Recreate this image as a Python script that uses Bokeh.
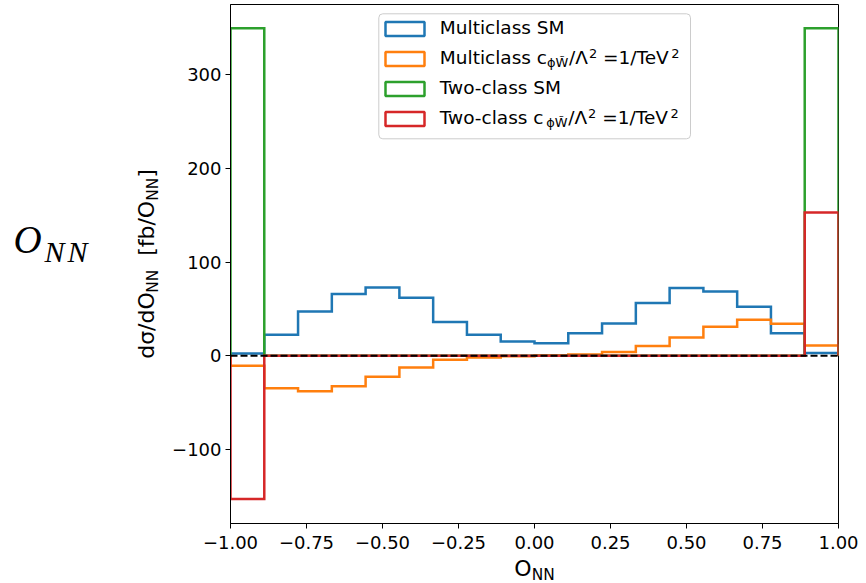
import numpy as np
from bokeh.plotting import figure
from bokeh.layouts import row, column
from bokeh.models import (Range1d, FixedTicker, CustomJSTickFormatter, Span,
                          BoxAnnotation, Label)
from bokeh.embed import file_html
from bokeh.resources import INLINE

# ---------------- data ----------------
bin_edges = np.linspace(-1.0, 1.0, 19)
multiclass_sm = [2.5, 22.5, 47.4, 66.0, 73.0, 62.0, 36.0, 22.5, 15.3, 13.5,
                 24.0, 34.6, 56.3, 72.4, 68.8, 52.4, 24.0, 2.9]
multiclass_cpw = [-10.7, -34.6, -38.0, -32.5, -22.5, -12.5, -4.3, -1.8, -0.5, 0.3,
                  1.4, 3.9, 10.4, 19.6, 31.0, 38.5, 34.2, 11.0]
twoclass_sm = [350.0, 0, 0, 0, 0, 0, 0, 0, 0, 0, 0, 0, 0, 0, 0, 0, 0, 350.0]
twoclass_cpw = [-153.0, 0, 0, 0, 0, 0, 0, 0, 0, 0, 0, 0, 0, 0, 0, 0, 0, 153.0]
x_ticks = [-1.0, -0.75, -0.5, -0.25, 0.0, 0.25, 0.5, 0.75, 1.0]
y_ticks = [-100, 0, 100, 200, 300]
series = [multiclass_sm, multiclass_cpw, twoclass_sm, twoclass_cpw]
colors = ["#1f77b4", "#ff7f0e", "#2ca02c", "#d62728"]

FONT = "DejaVu Sans"
NB = "\u00a0"
CW = {'M': .863, 'u': .634, 'l': .278, 't': .392, 'i': .278, 'c': .550, 'a': .613,
      's': .521, ' ': .318, NB: .318, 'S': .635, 'T': .611, 'w': .818, 'o': .612,
      '-': .361, 'e': .615, 'V': .684, '=': .838, '1': .636, '/': .337, 'Λ': .684,
      '2': .636, 'ϕ': .67, 'W': .989, '\u0303': 0.0, 'd': .635, 'σ': .603,
      'O': .787, 'N': .748, '[': .390, ']': .390, 'f': .352, 'b': .635}
BL = 0.47  # rendered baseline sits this many em below the label anchor


def tw(text, size):
    return sum(CW.get(ch, 0.6) for ch in text) * size


def add_text(fig, text, x, y, size, font=FONT, angle=0.0, style="normal"):
    # (x, y): desired baseline-left point in frame screen units (y up)
    if angle == 0.0:
        ax_, ay_ = x, y + BL * size
    else:
        ax_, ay_ = x - BL * size, y
    fig.add_layout(Label(x=ax_, y=ay_, x_units="screen", y_units="screen", text=text,
                         text_font=font, text_font_size=f"{size}px",
                         text_font_style=style, text_color="black",
                         text_align="left", text_baseline="alphabetic",
                         angle=angle))


def add_pieces(fig, pieces, x0, y0, angle=0.0):
    adv = 0.0
    for piece in pieces:
        text, size, shift = piece[:3]
        dx = piece[3] if len(piece) > 3 else 0.0
        adv += dx
        if angle == 0.0:
            add_text(fig, text, x0 + adv, y0 + shift, size)
        else:
            add_text(fig, text, x0 - shift, y0 + adv, size, angle=angle)
        adv += tw(text, size)
    return adv


TOTAL_W, TOTAL_H = 866, 583
LEFT_W = 168
TOP_H = 555
FL, FB, FT = 230, 523, 4     # main frame left / bottom / top on the page


def blank_fig(w, h, top=0, bottom=0):
    f = figure(width=w, height=h, output_backend="svg", toolbar_location=None,
               x_range=Range1d(0, 1), y_range=Range1d(0, 1),
               x_axis_type=None, y_axis_type=None,
               min_border=0, min_border_left=0, min_border_right=0,
               min_border_top=top, min_border_bottom=bottom)
    f.outline_line_color = None
    f.grid.visible = False
    return f


# ---------------- main figure ----------------
p = figure(width=TOTAL_W - LEFT_W, height=TOP_H, output_backend="svg",
           toolbar_location=None,
           x_range=Range1d(-1.0, 1.0), y_range=Range1d(-179.2, 375.3),
           min_border_left=FL - LEFT_W, min_border_right=28, min_border_top=FT,
           min_border_bottom=TOP_H - FB)
p.xgrid.visible = False
p.ygrid.visible = False
p.outline_line_color = "black"
p.outline_line_width = 1

for ax in (p.xaxis[0], p.yaxis[0]):
    ax.axis_line_color = "black"
    ax.major_tick_line_color = "black"
    ax.major_tick_out = 5
    ax.major_tick_in = 0
    ax.minor_tick_line_color = None
    ax.major_label_text_font = FONT
    ax.major_label_text_font_size = "18px"
    ax.major_label_text_color = "black"
p.xaxis.major_label_standoff = 7
p.yaxis.major_label_standoff = 4

p.xaxis.ticker = FixedTicker(ticks=x_ticks)
p.yaxis.ticker = FixedTicker(ticks=y_ticks)
p.xaxis.formatter = CustomJSTickFormatter(
    code="return (tick < 0 ? '\u2212' : '') + Math.abs(tick).toFixed(2);")
p.yaxis.formatter = CustomJSTickFormatter(
    code="return (tick < 0 ? '\u2212' : '') + Math.abs(tick).toFixed(0);")


def step_outline(edges, vals):
    xs = np.repeat(edges, 2)
    ys = np.concatenate([[0.0], np.repeat(np.asarray(vals, float), 2), [0.0]])
    return xs, ys


for vals, col in zip(series, colors):
    xs, ys = step_outline(bin_edges, vals)
    p.line(xs, ys, line_color=col, line_width=2.5, line_join="miter")

p.add_layout(Span(location=0, dimension="width", line_color="black",
                  line_width=2, line_dash="7 3"))


def sx(px):
    return px - FL


def sy(py):
    return FB - py


# legend
p.add_layout(BoxAnnotation(left=sx(378.3), right=sx(690), top=sy(13.3), bottom=sy(138.3),
                           left_units="screen", right_units="screen",
                           top_units="screen", bottom_units="screen",
                           fill_color="white", fill_alpha=0.8,
                           line_color="#cccccc", line_alpha=1.0, line_width=1,
                           border_radius=4))
LF = 18.5
sub = LF * 0.7
coef = [("ϕW\u0303", sub, -3, 0.0), ("/Λ", LF, 0, 0.5), ("2", sub, 6.5, 1.0),
        (NB + "=1/TeV", LF, 0), ("2", sub, 6.5, -0.5)]
legend_rows = [
    [("Multiclass SM", LF, 0)],
    [("Multiclass c", LF, 0)] + coef,
    [("Two-class SM", LF, 0)],
    [("Two-class c", LF, 0)] + coef,
]
for i, (rw, col) in enumerate(zip(legend_rows, colors)):
    base = 35.5 + 30 * i
    p.add_layout(BoxAnnotation(left=sx(385), right=sx(424), top=sy(base - 14), bottom=sy(base),
                               left_units="screen", right_units="screen",
                               top_units="screen", bottom_units="screen",
                               fill_alpha=0.0, line_color=col, line_alpha=1.0,
                               line_width=2.5))
    add_pieces(p, rw, sx(439.3), sy(base))

# ---------------- left panel: big label and y-axis title ----------------
left = blank_fig(LEFT_W, TOP_H, top=FT, bottom=TOP_H - FB)
L = 22
ls = L * 0.7
ylab = [("dσ/dO", L, 0), ("NN", ls, -3.5), (NB + NB + "[fb/O", L, 0),
        ("NN", ls, -3.5), ("]", L, 0)]
ylen = sum(tw(t, s) for t, s, _ in ylab)
add_pieces(left, ylab, 156, FB - (263.5 + ylen / 2), angle=np.pi / 2)
add_text(left, "O", 13, FB - 257, 39, font="Liberation Serif", style="italic")
add_text(left, "N", 44, FB - 265, 30, font="Liberation Serif", style="italic")
add_text(left, "N", 67, FB - 265, 30, font="Liberation Serif", style="italic")

# ---------------- bottom panel: x-axis title ----------------
BOT_H = TOTAL_H - TOP_H
bottom = blank_fig(TOTAL_W, BOT_H)
xlab = [("O", L, 0), ("NN", ls, -3.5)]
xlen = sum(tw(t, s) for t, s, _ in xlab)
add_pieces(bottom, xlab, 534 - xlen / 2, TOTAL_H - 578)

layout = column(row(left, p, spacing=0), bottom, spacing=0)
open("out.html", "w").write(file_html(layout, INLINE))
